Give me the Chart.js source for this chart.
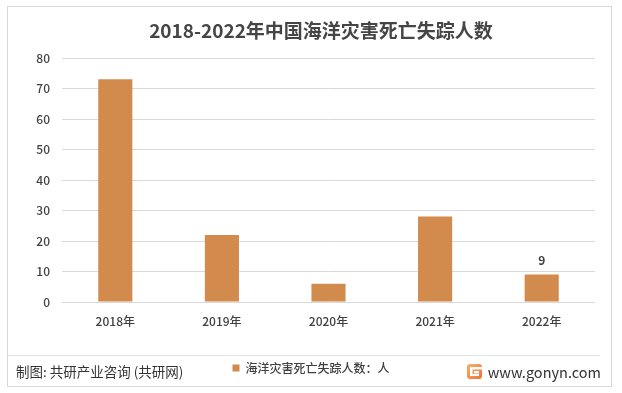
<!DOCTYPE html>
<html><head><meta charset="utf-8">
<script src="https://cdn.jsdelivr.net/npm/chart.js@4"></script>
<style>html,body{margin:0;padding:0;background:#fff;} canvas{display:block;}</style>
</head><body>
<canvas id="c" width="622" height="393"></canvas>
<script>
const categories = ['2018年', '2019年', '2020年', '2021年', '2022年'];
const values = [73, 22, 6, 28, 9];
const seriesName = '海洋灾害死亡失踪人数：人';
const yTicks = [0, 10, 20, 30, 40, 50, 60, 70, 80];
const labeledIndex = [4];
const titleText = '2018-2022年中国海洋灾害死亡失踪人数';
const sourceText = '制图: 共研产业咨询 (共研网)';
const siteText = 'www.gonyn.com';

const FONT = "'Noto Sans CJK SC', 'Noto Sans', sans-serif";
const BAR = '#D38B4D';
const GRID = '#D9D9D9';
const TXT = '#404040';

const decor = {
  id: 'decor',
  beforeDraw(chart) {
    const ctx = chart.ctx;
    ctx.save();
    ctx.fillStyle = '#fff';
    ctx.fillRect(0, 0, chart.width, chart.height);
    ctx.restore();
  },
  afterDraw(chart) {
    const ctx = chart.ctx;
    ctx.save();
    // border
    ctx.strokeStyle = GRID;
    ctx.lineWidth = 1;
    ctx.strokeRect(7.5, 6.5, 604, 380);
    // separator
    ctx.strokeStyle = '#E3E3E3';
    ctx.beginPath();
    ctx.moveTo(8, 355.5);
    ctx.lineTo(600, 355.5);
    ctx.stroke();
    // title
    ctx.fillStyle = '#454545';
    ctx.font = 'bold 19px ' + FONT;
    ctx.textAlign = 'center';
    ctx.textBaseline = 'middle';
    ctx.fillText(titleText, 321, 31);
    // data labels
    const meta = chart.getDatasetMeta(0);
    ctx.fillStyle = TXT;
    ctx.font = 'bold 12px ' + FONT;
    labeledIndex.forEach(i => {
      const el = meta.data[i];
      ctx.fillText(String(values[i]), el.x, el.y - 14);
    });
    // footer
    ctx.fillStyle = '#333333';
    ctx.font = '13.5px ' + FONT;
    ctx.textAlign = 'left';
    ctx.fillText(sourceText, 16, 372);
    ctx.textAlign = 'right';
    ctx.font = '14.5px ' + FONT;
    ctx.fillText(siteText, 601, 372);
    // logo
    const g = ctx.createLinearGradient(467, 364, 482, 379);
    g.addColorStop(0, '#F7B267');
    g.addColorStop(1, '#F0703A');
    ctx.fillStyle = g;
    ctx.beginPath();
    ctx.roundRect(467, 364, 15, 15, 3);
    ctx.fill();
    ctx.fillStyle = '#fff';
    ctx.fillRect(470, 367, 12, 2.5);
    ctx.fillRect(474, 371, 5, 2.5);
    ctx.fillRect(470, 367, 2.5, 9);
    ctx.fillRect(470, 374, 9, 2);
    ctx.restore();
  }
};

new Chart(document.getElementById('c'), {
  type: 'bar',
  data: {
    labels: categories,
    datasets: [{
      label: seriesName,
      data: values,
      backgroundColor: BAR,
      borderWidth: 0,
      barPercentage: 1,
      categoryPercentage: 0.32
    }]
  },
  options: {
    responsive: false,
    animation: false,
    devicePixelRatio: 1,
    layout: { padding: { top: 58, left: 8, right: 8, bottom: 9 } },
    plugins: {
      title: { display: false },
      tooltip: { enabled: false },
      legend: {
        display: true,
        position: 'bottom',
        labels: {
          boxWidth: 7,
          boxHeight: 7,
          color: TXT,
          font: { family: FONT, size: 12, weight: '500' },
          padding: 10
        }
      }
    },
    scales: {
      x: {
        grid: { display: false, drawTicks: false },
        border: { display: false },
        ticks: { color: TXT, font: { family: FONT, size: 12, weight: '500' }, padding: 12 },
        afterFit(s) { s.height = 50; }
      },
      y: {
        min: yTicks[0],
        max: yTicks[yTicks.length - 1],
        grid: { color: GRID, drawTicks: false },
        border: { display: false },
        ticks: {
          stepSize: yTicks[1] - yTicks[0],
          color: TXT,
          font: { family: FONT, size: 12, weight: '500' },
          padding: 12
        },
        afterFit(s) { s.width = 54; }
      },
      y2: {
        axis: 'y',
        type: 'linear',
        position: 'right',
        display: true,
        grid: { display: false, drawTicks: false },
        border: { display: false },
        ticks: { display: false },
        afterFit(s) { s.width = 19; }
      }
    }
  },
  plugins: [decor]
});
</script>
</body></html>
